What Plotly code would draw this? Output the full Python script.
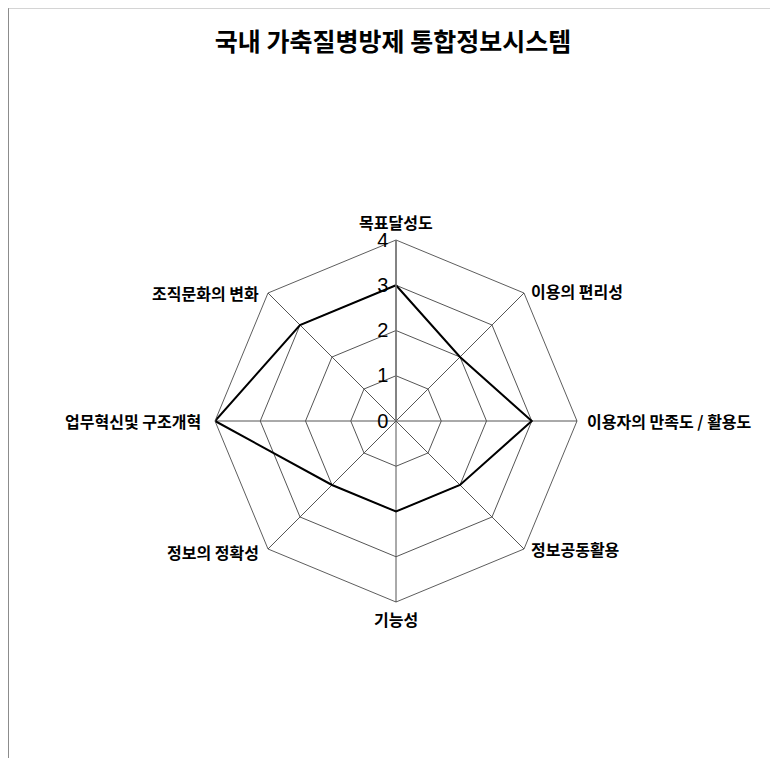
import math
import plotly.graph_objects as go

# 평가 항목 (clockwise from top)
categories = ["목표달성도", "이용의 편리성", "이용자의 만족도 / 활용도", "정보공동활용",
              "기능성", "정보의 정확성", "업무혁신및 구조개혁", "조직문화의 변화"]
scores = [3, 2, 3, 2, 2, 2, 4, 3]
radial_ticks = [0, 1, 2, 3, 4]
title_text = "국내 가축질병방제 통합정보시스템"

# page body has an 8px margin, so work in page coords and shift
OFF = 8
W, H = 778 - 2 * OFF, 766 - 2 * OFF
cx, cy, rad = 396 - OFF, 421 - OFF, 181


def px(x, y):
    return x / W, 1 - y / H


fig = go.Figure()
fig.add_trace(go.Scatterpolar(
    r=scores + scores[:1],
    theta=categories + categories[:1],
    mode="lines",
    line=dict(color="black", width=2),
    showlegend=False,
))

# category labels placed just outside the outer octagon
annotations = []
n = len(categories)
for i, name in enumerate(categories):
    a = math.radians(90 - 360 / n * i)
    c, s = math.cos(a), math.sin(a)
    vx, vy = cx + rad * c, cy - rad * s
    if abs(c) < 0.1:
        xa = "center"
        vy += -18 if s > 0 else 17
    elif c > 0:
        xa = "left"
        vx += 8 if abs(s) < 0.1 else 5
        vy += -2 if s > 0.1 else 0
    else:
        xa = "right"
        vx -= 12 if abs(s) < 0.1 else 7
        vy += 3 if s < -0.1 else 0
    x, y = px(vx, vy)
    annotations.append(dict(text=name, x=x, y=y, xref="paper", yref="paper",
                            xanchor=xa, yanchor="middle", showarrow=False,
                            font=dict(size=16, family="Noto Sans CJK KR", color="black", weight="bold")))

fig.update_layout(
    width=W, height=H,
    margin=dict(l=0, r=0, t=0, b=0),
    paper_bgcolor="white",
    font=dict(family="Noto Sans CJK KR, sans-serif", color="black"),
    title=dict(text="<b>" + title_text + "</b>", x=(393 - OFF) / W, xanchor="center",
               y=1 - (42 - OFF) / H, yanchor="middle",
               font=dict(size=25, family="Noto Sans CJK KR", color="black")),
    polar=dict(
        domain=dict(x=[(cx - rad) / W, (cx + rad) / W], y=[1 - (cy + rad) / H, 1 - (cy - rad) / H]),
        bgcolor="white",
        gridshape="linear",
        radialaxis=dict(
            range=[0, 4], tickvals=radial_ticks, angle=90, tickangle=90,
            side="counterclockwise",
            showline=True, linecolor="#777", linewidth=1.5,
            gridcolor="#555", gridwidth=0.7,
            ticks="", tickfont=dict(size=20, family="Arial", color="black"),
        ),
        angularaxis=dict(
            direction="clockwise", rotation=90,
            showline=True, linecolor="#333", linewidth=0.8,
            gridcolor="#555", gridwidth=0.7,
            ticks="", showticklabels=False,
        ),
    ),
    annotations=annotations,
    shapes=[
        dict(type="line", xref="paper", yref="paper", x0=0, x1=0, y0=0, y1=1,
             line=dict(color="#666", width=1.5)),
        dict(type="line", xref="paper", yref="paper", x0=0, x1=1, y0=1, y1=1,
             line=dict(color="#aaa", width=1)),
    ],
)

fig.write_html("out.html")
